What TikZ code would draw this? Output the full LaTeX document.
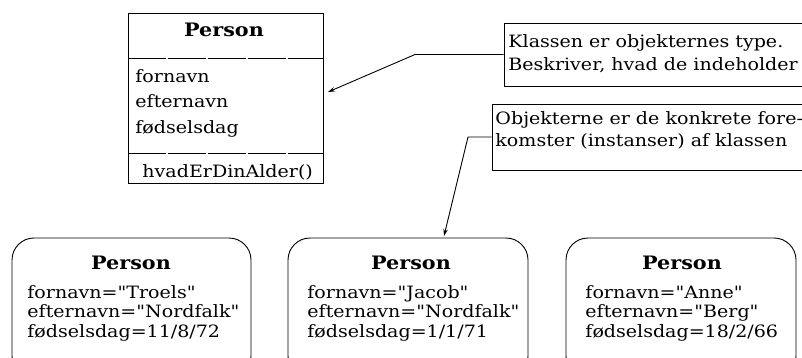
\documentclass[tikz,border=0pt]{standalone}
\usepackage{fontspec}
\setmainfont[FakeStretch=1.12, Ligatures=TeXOff]{DejaVu Serif}
\usetikzlibrary{arrows.meta}
\begin{document}
\begin{tikzpicture}[x=1pt,y=-1pt,
  line width=0.9pt,
  classbox/.style={draw, rectangle, inner sep=0pt, minimum width=195pt, minimum height=170pt},
  objbox/.style={draw, rectangle, rounded corners=22pt, inner sep=0pt, minimum height=140pt},
  notebox/.style={draw, rectangle, inner sep=0pt},
  txt/.style={anchor=base west, inner sep=0pt, font=\fontsize{17}{20}\selectfont},
  ttl/.style={anchor=base, inner sep=0pt, font=\bfseries\fontsize{18.5}{22}\selectfont},
  sep/.style={dash pattern=on 38pt off 2pt},
  arr/.style={-{Stealth[length=7pt,width=4.5pt]}}
]
\useasboundingbox (0,0) rectangle (802,357);
\clip (0,0) rectangle (802,357);

% class box
\node[classbox] (cls) at (225.5,98) {};
\draw[sep] (128,58) -- (323,58);
\draw[sep] (128,153) -- (323,153);
\node[ttl] (clsT) at (224,36) {Person};
\node[txt] (a1) at (135,82) {fornavn};
\node[txt] (a2) at (135,107) {efternavn};
\node[txt] (a3) at (135,133) {fødselsdag};
\node[txt] (m1) at (142,177) {hvadErDinAlder()};

% notes
\node[notebox, minimum width=326pt, minimum height=63pt] (n1) at (667,54.5) {};
\node[txt] (n1a) at (508,47) {Klassen er objekternes type.};
\node[txt] (n1b) at (508,70) {Beskriver, hvad de indeholder};

\node[notebox, minimum width=338pt, minimum height=66pt] (n2) at (661,137) {};
\node[txt] (n2a) at (495,124) {Objekterne er de konkrete fore-};
\node[txt] (n2b) at (495,146) {komster (instanser) af klassen};

% objects
\node[objbox, minimum width=239pt] (o1) at (131.5,308) {};
\node[ttl] (o1t) at (131,269) {Person};
\node[txt] (o1a) at (27,298) {fornavn="Troels"};
\node[txt] (o1b) at (27,317) {efternavn="Nordfalk"};
\node[txt] (o1c) at (27,337) {fødselsdag=11/8/72};

\node[objbox, minimum width=240pt] (o2) at (408,308) {};
\node[ttl] (o2t) at (411,269) {Person};
\node[txt] (o2a) at (307,298) {fornavn="Jacob"};
\node[txt] (o2b) at (307,317) {efternavn="Nordfalk"};
\node[txt] (o2c) at (307,337) {fødselsdag=1/1/71};

\node[objbox, minimum width=230pt] (o3) at (681,308) {};
\node[ttl] (o3t) at (682,269) {Person};
\node[txt] (o3a) at (585,298) {fornavn="Anne"};
\node[txt] (o3b) at (585,317) {efternavn="Berg"};
\node[txt] (o3c) at (585,337) {fødselsdag=18/2/66};

% connectors
\coordinate (b1) at (415,54.5);
\coordinate (t1) at (328,92);
\draw[arr] (n1.west) -- (b1) -- (t1);
\coordinate (b2) at (468,137);
\coordinate (t2) at (444,236);
\draw[arr] (n2.west) -- (b2) -- (t2);
\end{tikzpicture}
\end{document}
